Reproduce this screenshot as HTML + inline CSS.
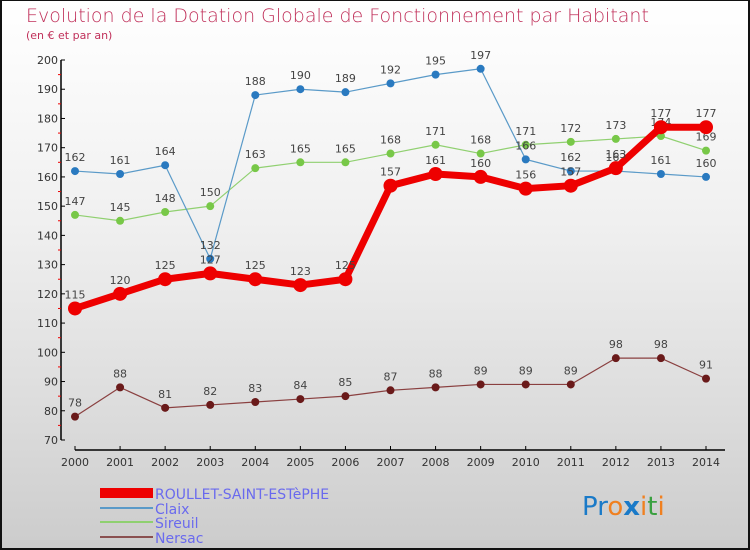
<!DOCTYPE html>
<html><head><meta charset="utf-8"><style>
body{margin:0;background:#fff}
#c{width:750px;height:550px;position:relative;box-sizing:border-box;border:2px solid #111;border-top:1px solid #111;background:linear-gradient(#ffffff 0%,#f0f0f0 40%,#dcdcdc 75%,#cccccc 100%);font-family:"DejaVu Sans","Liberation Sans",sans-serif;overflow:hidden}
</style></head><body>
<div id="c">
<svg id="s" width="750" height="550" style="position:absolute;left:-2px;top:-1px">
<text x="26" y="22" font-size="19" fill="#c0305a" font-family="DejaVu Sans, sans-serif" font-weight="200">Evolution de la Dotation Globale de Fonctionnement par Habitant</text>
<text x="26" y="39" font-size="11" fill="#c0305a">(en € et par an)</text>
<g id="axes"></g><g id="series"></g>
<g>
<rect x="100" y="488" width="53" height="10" fill="#ee0000"/>
<text x="155" y="499" font-size="14" fill="#6a6aee">ROULLET-SAINT-ESTèPHE</text>
<line x1="100" y1="508" x2="153" y2="508" stroke="#5a9ac8" stroke-width="2"/>
<text x="155" y="514" font-size="14" fill="#6a6aee">Claix</text>
<line x1="100" y1="522" x2="153" y2="522" stroke="#8fd070" stroke-width="2"/>
<text x="155" y="528" font-size="14" fill="#6a6aee">Sireuil</text>
<line x1="100" y1="537" x2="153" y2="537" stroke="#8a5050" stroke-width="2"/>
<text x="155" y="543" font-size="14" fill="#6a6aee">Nersac</text>
</g>
<text x="582" y="515" font-size="26" font-family="DejaVu Sans, sans-serif"><tspan fill="#1a7ac8">Pr</tspan><tspan fill="#f08020">o</tspan><tspan fill="#1a7ac8" font-weight="bold">x</tspan><tspan fill="#f08020">i</tspan><tspan fill="#3aa040">t</tspan><tspan fill="#f08020">i</tspan></text>
</svg>
</div>
<script>
const years=[2000,2001,2002,2003,2004,2005,2006,2007,2008,2009,2010,2011,2012,2013,2014];
const roullet=[115,120,125,127,125,123,125,157,161,160,156,157,163,177,177];
const claix=[162,161,164,132,188,190,189,192,195,197,166,162,162,161,160];
const sireuil=[147,145,148,150,163,165,165,168,171,168,171,172,173,174,169];
const nersac=[78,88,81,82,83,84,85,87,88,89,89,89,98,98,91];
const yTicks=[70,80,90,100,110,120,130,140,150,160,170,180,190,200];
const NS="http://www.w3.org/2000/svg";
const X=i=>75+i*(706-75)/(years.length-1);
const Y=v=>440-(v-70)*(380/130);
function mk(t,a,p){const e=document.createElementNS(NS,t);for(const k in a)e.setAttribute(k,a[k]);p.appendChild(e);return e;}
const ax=document.getElementById('axes'),sg=document.getElementById('series');
const yl=mk('line',{x1:61,y1:Y(200),x2:61,y2:Y(70),stroke:'#000','stroke-width':1.5},ax);


yTicks.forEach(v=>{
 const t=mk('line',{x1:61,y1:Y(v),x2:65,y2:Y(v),stroke:'#000'},ax);
 
 
 if(v<200){const m=mk('line',{x1:58,y1:Y(v+5),x2:61,y2:Y(v+5),stroke:'#e00'},ax);
 
 }
 const l=mk('text',{x:58,y:Y(v)+4,'font-size':11,fill:'#333','text-anchor':'end'},ax);l.textContent=v;
 
 
});
const xl=mk('line',{x1:75,y1:450,x2:725,y2:450,stroke:'#000','stroke-width':1.5},ax);


years.forEach((y,i)=>{
 const t=mk('line',{x1:X(i),y1:446,x2:X(i),y2:450,stroke:'#000'},ax);
 
 
 const l=mk('text',{x:X(i),y:466,'font-size':11,fill:'#333','text-anchor':'middle'},ax);l.textContent=y;
 
 
});
function series(d,name,col,w,r,dot){
 const g=mk('g',{},sg);
 
 
 const p=mk('polyline',{points:d.map((v,i)=>X(i)+','+Y(v)).join(' '),fill:'none',stroke:col,'stroke-width':w,'stroke-linejoin':'round'},g);
 
 
 d.forEach((v,i)=>{
  const c=mk('circle',{cx:X(i),cy:Y(v),r:r,fill:dot},g);
  
  
  const t=mk('text',{x:X(i),y:Y(v)-10,'font-size':11,fill:'#444','text-anchor':'middle'},g);t.textContent=v;
  
  
 });
}
series(nersac,'nersac','#8a4040',1.2,4,'#6a1a1a');
series(sireuil,'sireuil','#90d070',1.2,4,'#78c848');
series(claix,'claix','#5a9ac8',1.2,4,'#2a7ac0');
series(roullet,'roullet','#ee0000',7,7,'#ee0000');
</script>
</body></html>
